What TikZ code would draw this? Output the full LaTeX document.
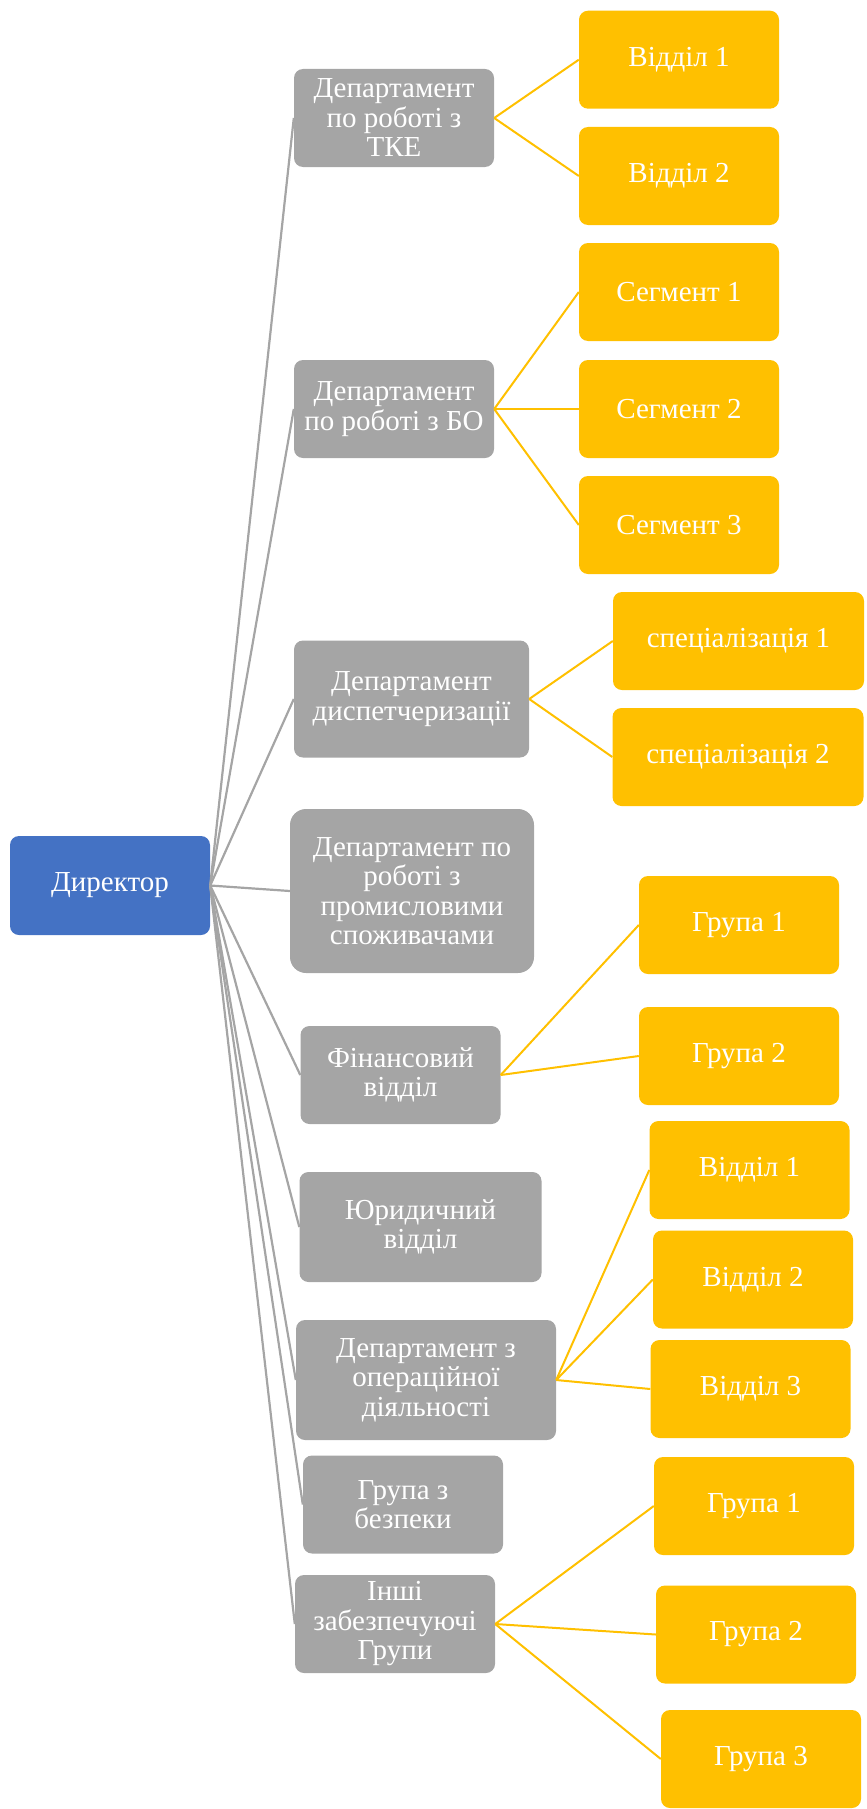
\documentclass[tikz,border=0pt]{standalone}
\usepackage{fontspec}
\setmainfont{Liberation Serif}
\definecolor{gbox}{HTML}{A5A5A5}
\definecolor{ybox}{HTML}{FFC000}
\definecolor{bbox}{HTML}{4472C4}
\tikzset{
  basebox/.style={rectangle, rounded corners=9pt, text=white, align=center, inner sep=0pt,
    font=\fontsize{29}{29.5}\selectfont, minimum width=200pt, minimum height=98pt},
  graybox/.style={basebox, fill=gbox},
  yellowbox/.style={basebox, fill=ybox},
  bluebox/.style={basebox, fill=bbox},
  glink/.style={draw=gbox, line width=2.2pt},
  ylink/.style={draw=ybox, line width=2pt}
}
\begin{document}
\begin{tikzpicture}[x=1pt, y=-1pt]
\useasboundingbox (0,0) rectangle (867,1809);
% root
\node[bluebox, minimum height=99pt] (dir) at (110,885.5) {Директор};
% departments
\node[graybox] (tke) at (394,118) {Департамент\\по роботі з\\ТКЕ};
\node[graybox] (bo) at (394,409) {Департамент\\по роботі з БО};
\node[graybox, minimum width=235pt, minimum height=117pt] (disp) at (411.5,699) {Департамент\\диспетчеризації};
\node[graybox, minimum width=244pt, minimum height=164pt, rounded corners=16pt] (prom) at (412,891) {Департамент по\\роботі з\\промисловими\\споживачами};
\node[graybox] (fin) at (400.5,1075) {Фінансовий\\відділ};
\node[graybox, minimum width=242pt, minimum height=110pt] (jur) at (420.5,1227) {Юридичний\\відділ};
\node[graybox, minimum width=260pt, minimum height=120pt] (ops) at (426,1380) {Департамент з\\операційної\\діяльності};
\node[graybox] (bez) at (403,1504.5) {Група з\\безпеки};
\node[graybox] (inshi) at (395,1624) {Інші\\забезпечуючі\\Групи};
% children
\node[yellowbox] (v1a) at (679,59.7) {Відділ 1};
\node[yellowbox] (v2a) at (679,176) {Відділ 2};
\node[yellowbox] (s1) at (679,292) {Сегмент 1};
\node[yellowbox] (s2) at (679,409) {Сегмент 2};
\node[yellowbox] (s3) at (679,525) {Сегмент 3};
\node[yellowbox, minimum width=251pt] (sp1) at (738.5,641) {спеціалізація 1};
\node[yellowbox, minimum width=251pt] (sp2) at (738,757) {спеціалізація 2};
\node[yellowbox] (g1a) at (739,925) {Група 1};
\node[yellowbox] (g2a) at (739,1056) {Група 2};
\node[yellowbox] (v1b) at (749.5,1170) {Відділ 1};
\node[yellowbox] (v2b) at (753,1279.5) {Відділ 2};
\node[yellowbox] (v3b) at (750.5,1389) {Відділ 3};
\node[yellowbox] (g1b) at (754,1506) {Група 1};
\node[yellowbox] (g2b) at (756,1634.5) {Група 2};
\node[yellowbox] (g3b) at (761,1759) {Група 3};
% director links
\foreach \t in {tke,bo,disp,prom,fin,jur,ops,bez,inshi}
  \draw[glink] (dir.east) -- (\t.west);
% department links
\foreach \p/\c in {tke/v1a,tke/v2a,bo/s1,bo/s2,bo/s3,disp/sp1,disp/sp2,fin/g1a,fin/g2a,ops/v1b,ops/v2b,ops/v3b,inshi/g1b,inshi/g2b,inshi/g3b}
  \draw[ylink] (\p.east) -- (\c.west);
\end{tikzpicture}
\end{document}
